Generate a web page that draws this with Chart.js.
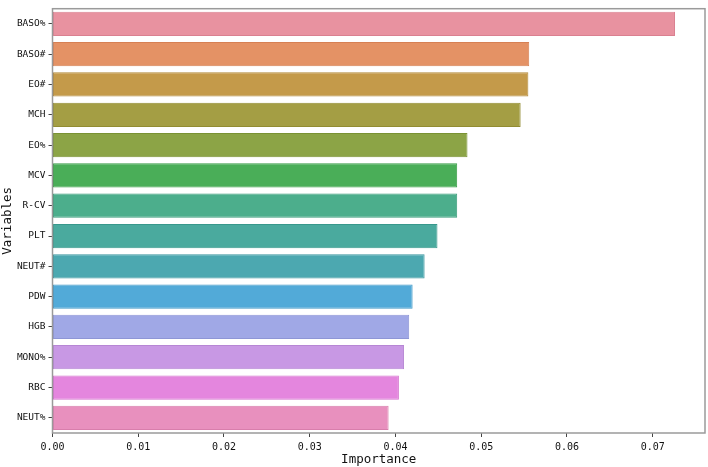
<!DOCTYPE html>
<html>
<head>
<meta charset="utf-8">
<script src="https://cdn.jsdelivr.net/npm/chart.js@4"></script>
<style>
    html, body { margin: 0; padding: 0; background: #fff; }
    #wrap { width: 708px; height: 467px; }
</style>
</head>
<body>
<div id="wrap"><canvas id="importanceChart"></canvas></div>
<script>
// Variables, top to bottom
const variables = ['BASO%', 'BASO#', 'EO#', 'MCH', 'EO%', 'MCV', 'R-CV', 'PLT', 'NEUT#', 'PDW', 'HGB', 'MONO%', 'RBC', 'NEUT%'];
const importance = [0.0726, 0.0556, 0.0555, 0.0546, 0.0484, 0.0472, 0.0472, 0.0449, 0.0434, 0.0420, 0.0416, 0.0410, 0.0404, 0.0392];
const xTicks = [0, 0.01, 0.02, 0.03, 0.04, 0.05, 0.06, 0.07];
const barColors = [
    'rgb(232,146,160)', 'rgb(228,146,101)', 'rgb(196,154,74)', 'rgb(164,158,68)',
    'rgb(140,164,70)', 'rgb(74,174,88)', 'rgb(76,174,140)', 'rgb(74,170,158)',
    'rgb(76,168,176)', 'rgb(82,170,216)', 'rgb(160,168,230)', 'rgb(200,152,228)',
    'rgb(228,134,222)', 'rgb(232,144,190)'
];
const edgeColors = [
    'rgb(218,128,144)', 'rgb(214,128,84)', 'rgb(178,136,56)', 'rgb(146,140,50)',
    'rgb(122,146,52)', 'rgb(56,156,70)', 'rgb(58,156,122)', 'rgb(56,152,140)',
    'rgb(58,150,158)', 'rgb(64,152,198)', 'rgb(142,150,214)', 'rgb(182,134,212)',
    'rgb(212,116,206)', 'rgb(216,126,172)'
];

// matplotlib-like box around the plot
const frame = {
    id: 'frame',
    afterDraw(chart) {
        const a = chart.chartArea;
        const ctx = chart.ctx;
        ctx.save();
        ctx.strokeStyle = '#9a9a9a';
        ctx.lineWidth = 1.5;
        ctx.strokeRect(a.left, a.top, a.right - a.left, a.bottom - a.top);
        ctx.restore();
    }
};

const font = "'DejaVu Sans Mono', 'Liberation Mono', monospace";

new Chart(document.getElementById('importanceChart'), {
    type: 'bar',
    data: {
        labels: variables,
        datasets: [{
            data: importance,
            backgroundColor: barColors,
            borderColor: edgeColors,
            borderWidth: 1,
            borderSkipped: false,
            barPercentage: 0.8,
            categoryPercentage: 1
        }]
    },
    options: {
        indexAxis: 'y',
        responsive: true,
        maintainAspectRatio: false,
        animation: false,
        layout: { padding: { top: 2, right: 3, left: 0, bottom: 0 } },
        plugins: {
            legend: { display: false },
            tooltip: { enabled: false }
        },
        scales: {
            x: {
                min: 0,
                max: 0.0761,
                afterBuildTicks: axis => { axis.ticks = xTicks.map(v => ({ value: v })); },
                afterFit: axis => { axis.height = 34; },
                grid: { drawOnChartArea: false, tickLength: 4, color: '#444', tickWidth: 1 },
                border: { display: false },
                ticks: {
                    color: '#111',
                    padding: 4,
                    font: { family: font, size: 10 },
                    callback: v => v.toFixed(2)
                },
                title: {
                    display: true,
                    text: 'Importance',
                    color: '#111',
                    padding: { top: 0, bottom: 0 },
                    font: { family: font, size: 12.5 }
                }
            },
            y: {
                afterFit: axis => { axis.width = 52.5; },
                grid: { drawOnChartArea: false, offset: false, tickLength: 4, color: '#444', tickWidth: 1 },
                border: { display: false },
                ticks: {
                    color: '#111',
                    padding: 3,
                    font: { family: font, size: 9.5 }
                },
                title: {
                    display: true,
                    text: 'Variables',
                    color: '#111',
                    padding: { top: 0, bottom: 0 },
                    font: { family: font, size: 12.5 }
                }
            }
        }
    },
    plugins: [frame]
});
</script>
</body>
</html>
